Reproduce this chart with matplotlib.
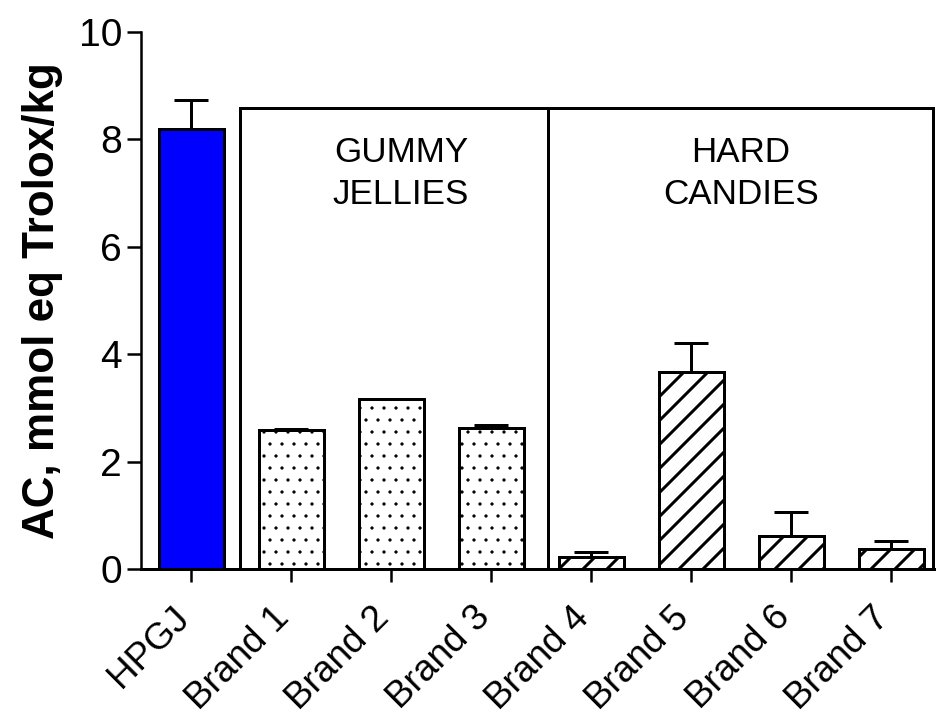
from __future__ import annotations

import matplotlib

matplotlib.use("Agg")
import matplotlib.pyplot as plt
import numpy as np
from matplotlib.patches import Rectangle
from matplotlib.transforms import ScaledTranslation

# Antioxidant capacity, mmol eq Trolox/kg (mean and upper SD)
samples = ["HPGJ", "Brand 1", "Brand 2", "Brand 3", "Brand 4", "Brand 5", "Brand 6", "Brand 7"]
ac_mean = [8.19, 2.59, 3.16, 2.63, 0.23, 3.67, 0.61, 0.37]
ac_sd = [0.54, 0.02, 0.01, 0.05, 0.09, 0.54, 0.46, 0.16]
sample_group = ["ref", "gummy", "gummy", "gummy", "hard", "hard", "hard", "hard"]

group_labels = {"gummy": "GUMMY\nJELLIES", "hard": "HARD\nCANDIES"}
y_ticks = [0, 2, 4, 6, 8, 10]

FILL = {"ref": "#0000ff", "gummy": "white", "hard": "white"}
HATCH = {"ref": "", "gummy": ".", "hard": "/"}
HATCH_LW = {"ref": 1.0, "gummy": 0.8, "hard": 3.0}

# group frames: x edges (between bar slots) and top of the frames
FRAME_EDGES = [0.49, 3.57, 7.42]
FRAME_TOP = 8.58
LABEL_X = {"gummy": 2.10, "hard": 5.50}
LABEL_Y = 7.36

# figure is drawn at 72 dpi so point sizes read as pixels
DPI = 72


def main() -> None:
    plt.rcParams["font.family"] = ["Liberation Sans", "DejaVu Sans"]
    plt.rcParams["hatch.color"] = "black"

    fig = plt.figure(figsize=(936 / DPI, 717 / DPI), dpi=DPI)
    ax = fig.add_axes([141 / 936, 1 - 569 / 717, 795 / 936, 537.3 / 717])

    x = np.arange(len(samples))
    bars = ax.bar(
        x,
        ac_mean,
        width=0.65,
        color=[FILL[g] for g in sample_group],
        edgecolor="black",
        linewidth=3,
        zorder=3,
    )
    for bar, g in zip(bars, sample_group):
        bar.set_hatch(HATCH[g])
        if hasattr(bar, "set_hatch_linewidth"):
            bar.set_hatch_linewidth(HATCH_LW[g])

    ax.errorbar(
        x,
        ac_mean,
        yerr=[np.zeros(len(ac_sd)), ac_sd],
        fmt="none",
        ecolor="black",
        elinewidth=3,
        capsize=17,
        capthick=3,
        zorder=2,
    )

    # frames around the two candy groups
    for left, right, g in zip(FRAME_EDGES[:-1], FRAME_EDGES[1:], ["gummy", "hard"]):
        ax.add_patch(
            Rectangle((left, 0), right - left, FRAME_TOP, fill=False,
                      edgecolor="black", linewidth=3, zorder=1, clip_on=False)
        )
        ax.text(LABEL_X[g], LABEL_Y, group_labels[g], ha="center",
                va="center", fontsize=35, linespacing=1.38)

    ax.set_xlim(-0.5, 7.45)
    ax.set_ylim(0, 10)
    ax.set_yticks(y_ticks)
    ax.set_xticks(x)
    ax.set_xticklabels(samples, rotation=45, ha="right", va="baseline",
                       rotation_mode="anchor")
    shift = ScaledTranslation(8 / DPI, 0, fig.dpi_scale_trans)
    for lab in ax.get_xticklabels():
        lab.set_transform(lab.get_transform() + shift)

    for side in ("top", "right"):
        ax.spines[side].set_visible(False)
    ax.spines["left"].set_linewidth(2.5)
    ax.spines["bottom"].set_linewidth(3)

    ax.tick_params(axis="y", length=14, width=2.5, pad=5, labelsize=39)
    ax.tick_params(axis="x", length=13, width=2.5, pad=37, labelsize=37)

    ax.set_ylabel("AC, mmol eq Trolox/kg", fontsize=44, fontweight="bold",
                  labelpad=16)

    fig.savefig("out.png", dpi=DPI)
    plt.close(fig)


if __name__ == "__main__":
    main()
